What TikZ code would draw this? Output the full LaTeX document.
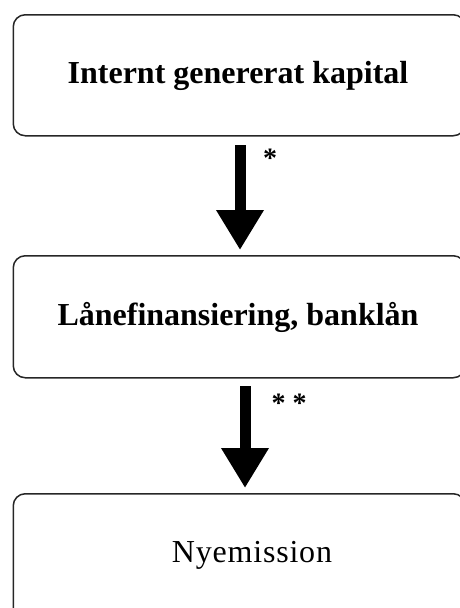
\documentclass[tikz,border=0pt]{standalone}
\usepackage{fontspec}
\setmainfont{Liberation Serif}
\usetikzlibrary{arrows.meta}
\begin{document}
\begin{tikzpicture}[x=1pt,y=-1pt,
  box/.style={draw=black!85, line width=1.5pt, rounded corners=12pt, anchor=north west, inner sep=0pt, minimum width=452pt},
  lbl/.style={font=\fontsize{32}{36}\selectfont\bfseries, anchor=base, inner sep=0pt},
  lblr/.style={font=\fontsize{32}{36}\selectfont\addfontfeature{LetterSpace=2.5}, anchor=base, inner sep=0pt},
  flow/.style={line width=11pt, -{Triangle[width=45pt,length=40pt]}},
  stars/.style={font=\fontsize{28}{30}\selectfont\bfseries, inner sep=0pt}]
\useasboundingbox (0,0) rectangle (460,608);
\clip (0,0) rectangle (460,608);
\node[box, minimum height=121pt] (b1) at (12.5,14) {};
\node[box, minimum height=122pt] (b2) at (12.5,255) {};
\node[box, minimum height=140pt] (b3) at (12.5,493) {};
\node[lbl] (t1) at (238,83) {Internt genererat kapital};
\node[lbl] (t2) at (238,325) {Lånefinansiering, banklån};
\node[lblr] (t3) at (252,562) {Nyemission};
\coordinate (a1s) at (240,145);
\coordinate (a1e) at (240,250);
\coordinate (a2s) at (245,386);
\coordinate (a2e) at (245,488);
\draw[flow] (a1s) -- (a1e);
\draw[flow] (a2s) -- (a2e);
\node[stars] (s1) at (270,158) {*};
\node[stars] (s2) at (289,403) {* *};
\end{tikzpicture}
\end{document}
